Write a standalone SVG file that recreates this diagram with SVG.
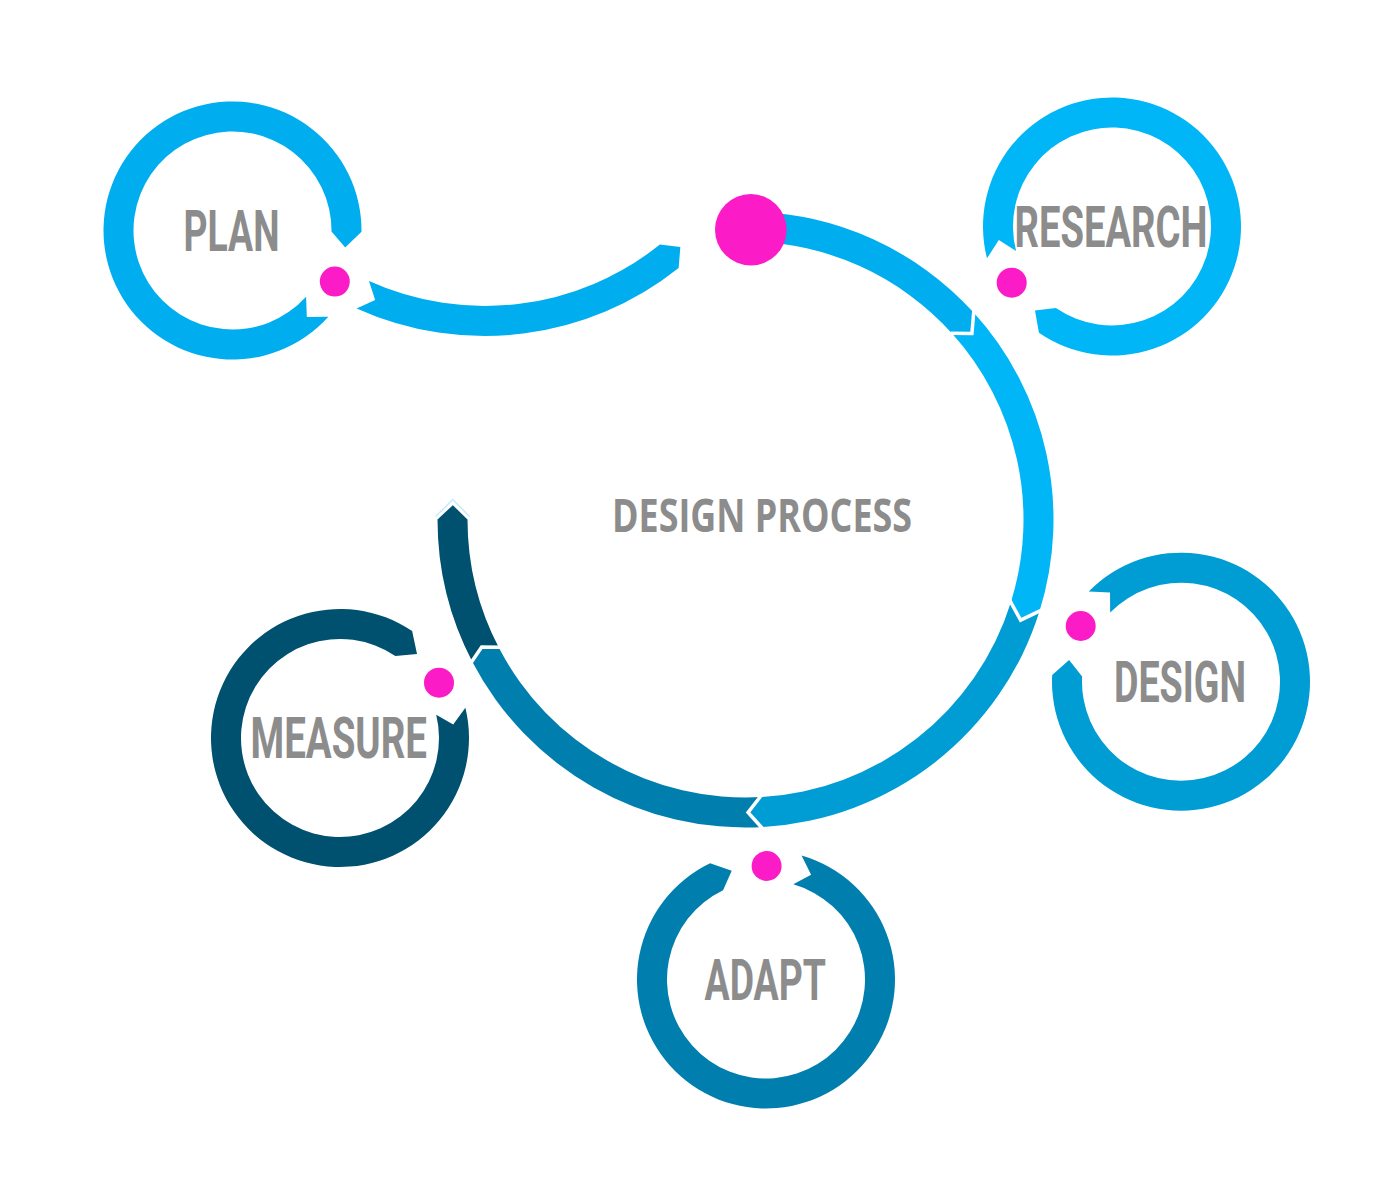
<svg xmlns="http://www.w3.org/2000/svg" width="1400" height="1200" viewBox="0 0 1400 1200">
  <style>
    .lbl { font-family: Roboto, "DejaVu Sans Condensed", sans-serif; font-weight: 700; font-size: 57px; fill: #8c8c8c; }
    .title { font-family: "Open Sans", "DejaVu Sans", sans-serif; font-weight: 700; font-size: 46.5px; fill: #8c8c8c; }
    .dot { fill: #fb1bc7; }
    .gap { fill: none; stroke: #ffffff; stroke-width: 3.5; stroke-linejoin: miter; stroke-linecap: butt; }
    .c1 { fill: #00aeef; }
    .c2 { fill: #00b6f7; }
    .c3 { fill: #009dd5; }
    .c4 { fill: #007faf; }
    .c5 { fill: #00516f; }
  </style>
  <rect width="1400" height="1200" fill="#ffffff"/>

  <g id="connectors">
    <path id="link-plan" class="c1" d="M356.62,308.45 A311,311 0 0 0 678.63,268.05 L680.35,247.03 L659.91,244.61 A281,281 0 0 1 368.97,281.10 L375.15,300.02 Z"/>
    <path id="arc-research" class="c1" d="M750.88,211.55 A308,308 0 0 1 973.67,312.61 L971.91,333.52 L951.44,332.76 A278,278 0 0 0 750.35,241.54 Z"/>
    <path id="arc-design" class="c2" d="M973.67,312.61 A308,308 0 0 1 1039.57,611.09 L1020.66,620.19 L1010.92,602.17 A278,278 0 0 0 951.44,332.76 L971.91,333.52 Z"/>
    <path id="arc-adapt" class="c3" d="M1039.57,611.09 A308,308 0 0 1 763.23,826.99 L748.06,812.49 L761.50,797.04 A278,278 0 0 0 1010.92,602.17 L1020.66,620.19 Z"/>
    <path id="arc-measure" class="c4" d="M763.23,826.99 A308,308 0 0 1 472.55,662.20 L481.70,647.02 L499.14,648.30 A278,278 0 0 0 761.50,797.04 L748.06,812.49 Z"/>
    <path id="arc-end" class="c5" d="M472.55,662.20 A308,308 0 0 1 437.5,519.5 L452.85,505.19 L467.5,519.5 A278,278 0 0 0 499.14,648.30 L481.70,647.02 Z"/>
    <polyline class="gap" points="973.9,310.4 971.91,333.52 950.9,333.3"/>
    <polyline class="gap" points="1041.5,610.2 1020.66,620.19 1009.4,599.6"/>
    <polyline class="gap" points="763.4,829.5 748.06,812.49 761.6,795"/>
    <polyline class="gap" points="470.5,663.5 481.70,647.02 500.8,647.3"/>
    <polyline fill="none" stroke="#c6ecfb" stroke-width="1.5" points="435.5,516.5 452.85,499.5 469.5,516.5"/>
  </g>

  <g id="node-process">
    <circle class="dot" cx="750.8" cy="229.8" r="35.8"/>
    <text class="title" x="612" y="531.7" textLength="300" lengthAdjust="spacingAndGlyphs">DESIGN PROCESS</text>
  </g>

  <g id="node-plan">
    <path class="c1" d="M328.37,316.81 A129,129 0 1 1 361.49,231.85 L345.22,247.55 L331.49,231.54 A99,99 0 1 0 306.07,296.74 L306.84,316.93 Z"/>
    <circle class="dot" cx="334.8" cy="281.6" r="15"/>
    <text class="lbl" x="183.5" y="250.7" textLength="96" lengthAdjust="spacingAndGlyphs">PLAN</text>
  </g>

  <g id="node-research">
    <path class="c2" d="M987.00,258.36 A129,129 0 1 1 1038.93,332.81 L1034.98,310.55 L1055.93,308.09 A99,99 0 1 0 1016.07,250.95 L998.80,240.00 Z"/>
    <circle class="dot" cx="1011.7" cy="282.7" r="15"/>
    <text class="lbl" x="1014.5" y="246.7" textLength="193" lengthAdjust="spacingAndGlyphs">RESEARCH</text>
  </g>

  <g id="node-design">
    <path class="c3" d="M1088.68,591.60 A129,129 0 1 1 1052.18,674.95 L1069.09,659.95 L1082.14,676.52 A99,99 0 1 0 1110.15,612.56 L1110.03,592.48 Z"/>
    <circle class="dot" cx="1080.7" cy="626" r="15"/>
    <text class="lbl" x="1114" y="701.7" textLength="132" lengthAdjust="spacingAndGlyphs">DESIGN</text>
  </g>

  <g id="node-adapt">
    <path class="c4" d="M801.56,855.50 A129,129 0 1 1 710.06,863.26 L731.72,870.78 L723.07,890.29 A99,99 0 1 0 793.29,884.34 L811.09,874.80 Z"/>
    <circle class="dot" cx="766.6" cy="866" r="15"/>
    <text class="lbl" x="704.5" y="1000" textLength="121.5" lengthAdjust="spacingAndGlyphs">ADAPT</text>
  </g>

  <g id="node-measure">
    <path class="c5" d="M465.38,707.67 A129,129 0 1 1 412.14,631.05 L417.02,653.95 L395.36,655.93 A99,99 0 1 0 436.22,714.72 L453.20,724.50 Z"/>
    <circle class="dot" cx="439" cy="682.7" r="15"/>
    <text class="lbl" x="250.5" y="757.7" textLength="176.5" lengthAdjust="spacingAndGlyphs">MEASURE</text>
  </g>
</svg>
